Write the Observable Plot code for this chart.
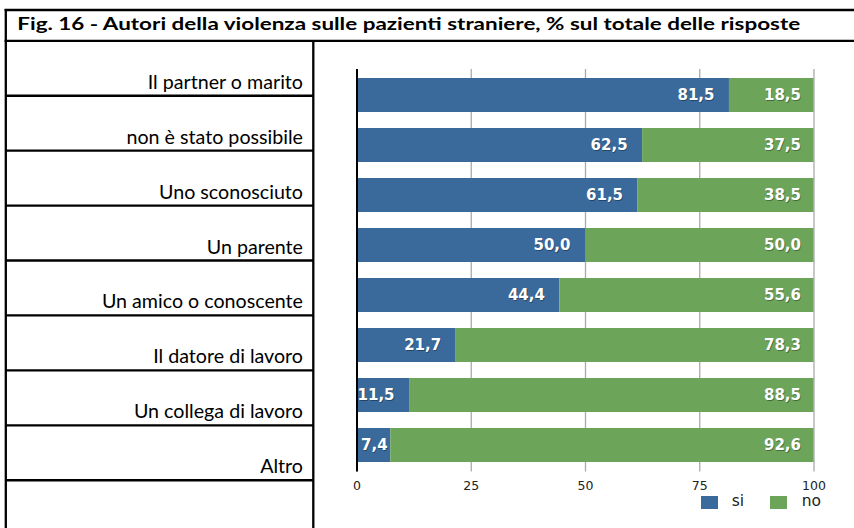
<!DOCTYPE html>
<html>
<head>
<meta charset="utf-8">
<script src="https://cdn.jsdelivr.net/npm/d3@7"></script>
<script src="https://cdn.jsdelivr.net/npm/@observablehq/plot@0.6"></script>
<style>
  html, body { margin: 0; padding: 0; background: #fff; }
  #page { position: relative; width: 854px; height: 528px; overflow: hidden; background: #fff; }
  #table { position: absolute; left: 0; top: 0; }
  #chart { position: absolute; left: 313px; top: 41px; }
  .legend { position: absolute; font-family: "DejaVu Sans", sans-serif; font-size: 15.5px; color: #222; line-height: 1; }
  .sw { position: absolute; width: 17px; height: 13px; }
</style>
</head>
<body>
<div id="page">
  <svg id="table" width="854" height="528"></svg>
  <div id="chart"></div>
</div>
<script>
const title = "Fig. 16 - Autori della violenza sulle pazienti straniere, % sul totale delle risposte";
const categories = ["Il partner o marito", "non è stato possibile", "Uno sconosciuto", "Un parente",
  "Un amico o conoscente", "Il datore di lavoro", "Un collega di lavoro", "Altro"];
const siValues = [81.5, 62.5, 61.5, 50.0, 44.4, 21.7, 11.5, 7.4];
const noValues = [18.5, 37.5, 38.5, 50.0, 55.6, 78.3, 88.5, 92.6];
const seriesNames = ["si", "no"];
const seriesColors = ["#3a6a9b", "#6ca45a"];
const xTicks = [0, 25, 50, 75, 100];

const fmt = v => d3.format(".1f")(v).replace(".", ",");

// ---- table frame and texts ----
const tsvg = d3.select("#table");
const lw = 2.3;
const rowTop = 40.8, rowH = 54.93, divX = 313.3, leftX = 5.8;
const lines = [
  [4.6, 10, 854, 10],
  [4.6, rowTop, 854, rowTop],
  [leftX, 9, leftX, 528],
  [divX, rowTop, divX, 528]
];
categories.forEach((c, i) => lines.push([leftX, rowTop + rowH * (i + 1), divX, rowTop + rowH * (i + 1)]));
tsvg.selectAll("line").data(lines).join("line")
  .attr("x1", d => d[0]).attr("y1", d => d[1]).attr("x2", d => d[2]).attr("y2", d => d[3])
  .attr("stroke", "#000").attr("stroke-width", lw);

const tt = tsvg.append("text")
  .attr("font-family", "Lato, sans-serif").attr("font-weight", "bold").attr("font-size", 16.6)
  .attr("fill", "#000").text(title);
const tw = tt.node().getComputedTextLength();
tt.attr("transform", `translate(17.3,29.6) scale(${783 / tw},1)`);

const labs = tsvg.selectAll("text.lab").data(categories).join("text").attr("class", "lab")
  .attr("font-family", "Lato, sans-serif").attr("font-size", 18.3).attr("fill", "#000")
  .attr("text-anchor", "end").text(d => d);
const refIdx = categories.indexOf("Un amico o conoscente");
const refW = labs.nodes()[refIdx].getComputedTextLength();
const lsx = 201 / refW;
labs.attr("transform", (d, i) => `translate(303,${rowTop + rowH * (i + 1) - 7}) scale(${lsx},1)`);

// ---- chart ----
const rows = [];
categories.forEach((c, i) => {
  rows.push({cat: c, series: seriesNames[0], value: siValues[i]});
  rows.push({cat: c, series: seriesNames[1], value: noValues[i]});
});
const pairs = categories.map((c, i) => ({cat: c, si: siValues[i], no: noValues[i]}));
const bigSi = pairs.filter(d => d.si >= 10);
const smallSi = pairs.filter(d => d.si < 10);
const labFont = {fontFamily: "DejaVu Sans, sans-serif", fontWeight: "bold", fontSize: 15};

function labelMarks(data, opts) {
  return [
    Plot.text(data, {...opts, ...labFont, fill: "#000", fillOpacity: 0.35, dx: (opts.dx || 0) + 0.8, dy: 1}),
    Plot.text(data, {...opts, ...labFont, fill: "#fff"})
  ];
}

const chart = Plot.plot({
  width: 541,
  height: 487,
  marginLeft: 43.5,
  marginRight: 40.5,
  marginTop: 28,
  marginBottom: 56.5,
  style: {background: "none", fontFamily: "DejaVu Sans, sans-serif"},
  x: {domain: [0, 100]},
  y: {domain: categories, paddingInner: 0.324, paddingOuter: 0.162, axis: null},
  color: {domain: seriesNames, range: seriesColors},
  marks: [
    Plot.gridX(xTicks, {stroke: "#aaa", strokeOpacity: 1, strokeWidth: 1.3}),
    Plot.barX(rows, Plot.stackX({x: "value", y: "cat", fill: "series", order: seriesNames})),
    ...labelMarks(bigSi, {x: "si", y: "cat", text: d => fmt(d.si), textAnchor: "end", dx: -15}),
    ...labelMarks(smallSi, {x: () => 0, y: "cat", text: d => fmt(d.si), textAnchor: "start", dx: 4}),
    ...labelMarks(pairs, {x: d => d.si + d.no, y: "cat", text: d => fmt(d.no), textAnchor: "end", dx: -13}),
    Plot.ruleX([0], {stroke: "#000", strokeWidth: 2}),
    Plot.axisX({ticks: xTicks, tickSize: 0, tickPadding: 9, fontSize: 12.5, fill: "#222", label: null, tickFormat: d => String(d)})
  ]
});
document.getElementById("chart").appendChild(chart);

// ---- legend ----
const page = document.getElementById("page");
const legPos = [{sw: 701, tx: 731.7}, {sw: 770, tx: 801.7}];
seriesNames.forEach((s, i) => {
  const sw = document.createElement("div");
  sw.className = "sw";
  sw.style.left = legPos[i].sw + "px";
  sw.style.top = "496px";
  sw.style.background = seriesColors[i];
  page.appendChild(sw);
  const t = document.createElement("div");
  t.className = "legend";
  t.style.left = legPos[i].tx + "px";
  t.style.top = "494px";
  t.textContent = s;
  page.appendChild(t);
});
</script>
</body>
</html>
